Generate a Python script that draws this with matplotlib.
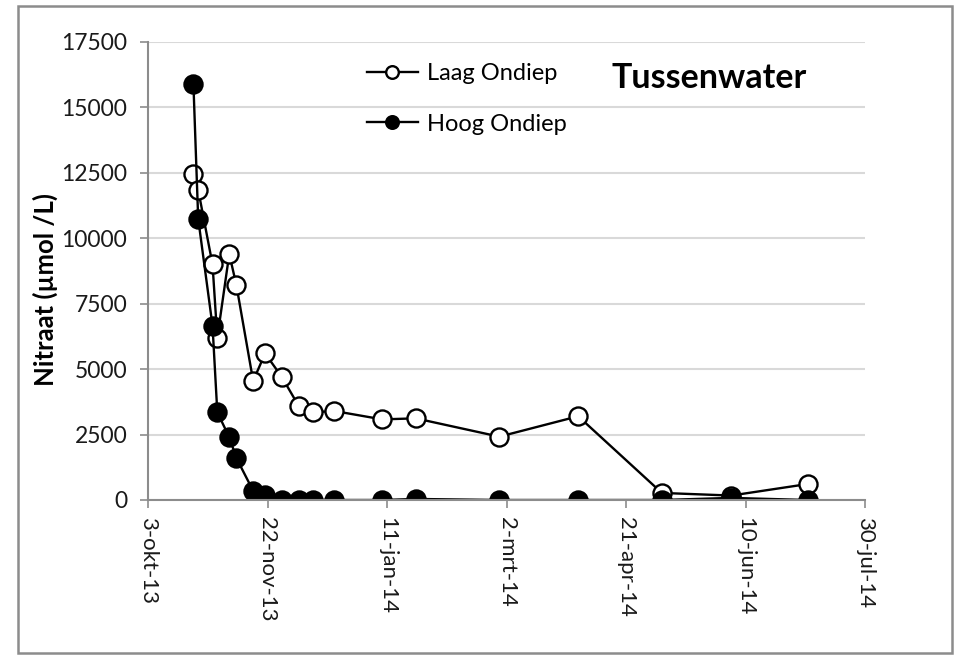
import pandas as pd
import matplotlib
matplotlib.use('Agg')
import matplotlib.pyplot as plt
from matplotlib.patches import Rectangle

plt.rcParams['font.family'] = ['Lato', 'DejaVu Sans']

# sample dates and nitrate values (umol/L)
laag_dates = ['2013-10-22', '2013-10-24', '2013-10-30', '2013-11-01', '2013-11-06',
              '2013-11-09', '2013-11-16', '2013-11-21', '2013-11-28', '2013-12-05',
              '2013-12-11', '2013-12-20', '2014-01-09', '2014-01-23', '2014-02-27',
              '2014-04-01', '2014-05-06', '2014-06-04', '2014-07-06']
laag_values = [12450, 11850, 9000, 6200, 9400, 8200, 4550, 5600, 4700, 3600,
               3350, 3400, 3080, 3120, 2420, 3200, 270, 170, 610]

hoog_dates = ['2013-10-22', '2013-10-24', '2013-10-30', '2013-11-01', '2013-11-06',
              '2013-11-09', '2013-11-16', '2013-11-21', '2013-11-28', '2013-12-05',
              '2013-12-11', '2013-12-20', '2014-01-09', '2014-01-23', '2014-02-27',
              '2014-04-01', '2014-05-06', '2014-06-04', '2014-07-06']
hoog_values = [15900, 10750, 6650, 3350, 2400, 1600, 350, 200, 0, 0,
               0, 0, 0, 40, 0, 0, 0, 80, 0]

tick_dates = ['2013-10-03', '2013-11-22', '2014-01-11', '2014-03-02',
              '2014-04-21', '2014-06-10', '2014-07-30']
tick_labels = ['3-okt-13', '22-nov-13', '11-jan-14', '2-mrt-14',
               '21-apr-14', '10-jun-14', '30-jul-14']
y_ticks = [0, 2500, 5000, 7500, 10000, 12500, 15000, 17500]

fig = plt.figure(figsize=(9.57, 6.56), dpi=100)
ax = fig.add_axes([148 / 957, 1 - 500 / 656, 717 / 957, 458 / 656])

ax.plot(pd.to_datetime(laag_dates), laag_values, color='black', lw=1.7,
        marker='o', ms=13, mfc='white', mec='black', mew=1.7, label='Laag Ondiep')
ax.plot(pd.to_datetime(hoog_dates), hoog_values, color='black', lw=1.7,
        marker='o', ms=13, mfc='black', mec='black', mew=1.7, label='Hoog Ondiep')

ax.set_xlim(pd.Timestamp(tick_dates[0]), pd.Timestamp(tick_dates[-1]))
ax.set_ylim(0, 17500)
ax.set_xticks(pd.to_datetime(tick_dates))
ax.set_xticklabels(tick_labels, rotation=270, fontsize=16, color='#1a1a1a')
ax.set_yticks(y_ticks)
ax.set_yticklabels([str(v) for v in y_ticks], fontsize=16.5, color='#1a1a1a')
ax.tick_params(axis='both', direction='out', length=6, width=1.2, color='#8c8c8c')
ax.tick_params(axis='y', pad=9)
ax.tick_params(axis='x', pad=6)

ax.grid(axis='y', color='#d9d9d9', lw=1.5)
ax.set_axisbelow(True)
for s in ['top', 'right']:
    ax.spines[s].set_visible(False)
for s in ['left', 'bottom']:
    ax.spines[s].set_color('#8c8c8c')
    ax.spines[s].set_linewidth(1.5)

fig.text(45 / 957, 1 - 289 / 656, 'Nitraat (µmol /L)', rotation=90,
         fontsize=18.5, fontweight='bold', ha='center', va='center')
fig.text(612 / 957, 1 - 78 / 656, 'Tussenwater', fontsize=24.5,
         fontweight='bold', ha='left', va='center')

leg = ax.legend(loc='upper left', bbox_to_anchor=(367 / 957, 1 - 63 / 656),
                bbox_transform=fig.transFigure, frameon=False, fontsize=17,
                borderpad=0, borderaxespad=0, handlelength=2.15,
                handletextpad=0.38, labelspacing=1.25, markerscale=0.7)

fig.patches.append(Rectangle((18 / 957, 1 - 653 / 656), 934 / 957, 647 / 656,
                             transform=fig.transFigure, fill=False,
                             edgecolor='#8c8c8c', lw=1.8))

plt.savefig('out.png', dpi=100)
